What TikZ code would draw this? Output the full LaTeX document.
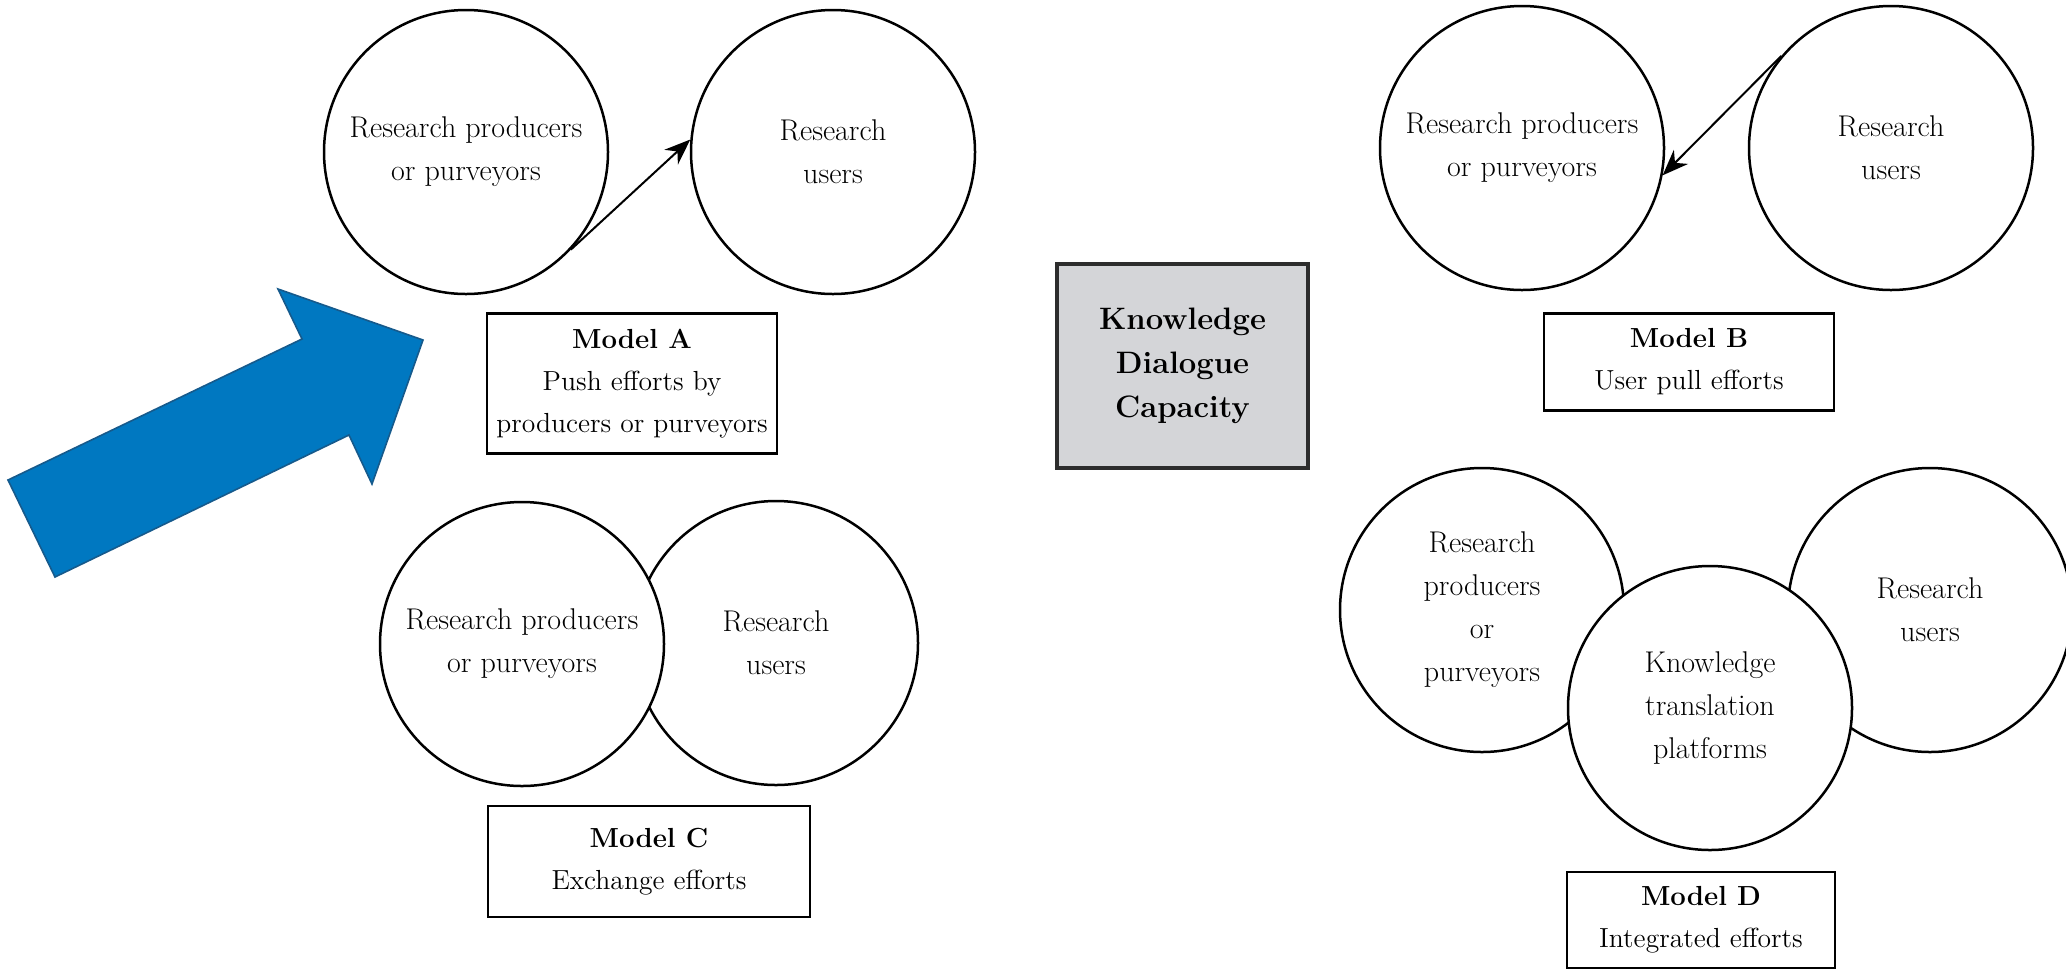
\documentclass[tikz,border=0pt]{standalone}
\usetikzlibrary{arrows.meta}
\definecolor{kdcgray}{RGB}{212,213,216}
\definecolor{kdcedge}{RGB}{45,45,45}
\definecolor{bluefill}{RGB}{0,120,193}
\definecolor{blueedge}{RGB}{22,90,140}
\begin{document}
\begin{tikzpicture}[x=0.5pt,y=-0.5pt,
  circ/.style={circle, draw=black, line width=1.25pt, fill=white, minimum size=142pt,
    inner sep=0pt, align=center, font=\fontsize{15}{21.5}\selectfont},
  mbox/.style={rectangle, draw=black, line width=1.4pt, fill=white, inner sep=0pt,
    align=center, font=\fontsize{13.8}{21}\selectfont},
  kbox/.style={rectangle, draw=kdcedge, line width=1.6pt, fill=kdcgray, inner sep=0pt,
    align=center, font=\fontsize{15.5}{22}\selectfont\bfseries},
  conn/.style={line width=1pt, -{Stealth[length=13pt,width=10pt]}},
  bigarrow/.style={fill=bluefill, draw=blueedge, line width=0.8pt, line join=miter}
]
\clip (0,0) rectangle (2066,971);
\fill[white] (0,0) rectangle (2066,971);

% Blue arrow
\draw[bigarrow] (8,480) -- (302,339) -- (278,289) -- (423,340) -- (372,484)
  -- (349,435) -- (55,577) -- cycle;

% Model A
\node[circ] (a1) at (466,152) {Research producers\\or purveyors};
\node[circ] (a2) at (833,152) {Research\\users};
\draw[conn] (a1.-43) -- (a2.175);
\node[mbox, minimum width=145pt, minimum height=70pt] (ma) at (632,383.5)
  {\textbf{Model A}\\Push efforts by\\producers or purveyors};

% Centre box
\node[kbox, minimum width=125.5pt, minimum height=102pt] (kdc) at (1182.5,366)
  {Knowledge\\Dialogue\\Capacity};

% Model B
\node[circ] (b1) at (1522,148) {Research producers\\or purveyors};
\node[circ] (b2) at (1891,148) {Research\\users};
\draw[conn] (b2.140) -- (b1.-11);
\node[mbox, minimum width=145pt, minimum height=48.5pt] (mb) at (1689,362)
  {\textbf{Model B}\\User pull efforts};

% Model C
\node[circ] (c2) at (776,643) {Research\\users};
\node[circ] (c1) at (522,644) {Research producers\\or purveyors};
\node[mbox, minimum width=161pt, minimum height=55.5pt] (mc) at (649,861.5)
  {\textbf{Model C}\\Exchange efforts};

% Model D
\node[circ] (d1) at (1482,610) {Research\\producers\\or\\purveyors};
\node[circ] (d3) at (1930,610) {Research\\users};
\node[circ] (d2) at (1710,708) {Knowledge\\translation\\platforms};
\node[mbox, minimum width=134pt, minimum height=48pt] (md) at (1701,920)
  {\textbf{Model D}\\Integrated efforts};
\end{tikzpicture}
\end{document}
